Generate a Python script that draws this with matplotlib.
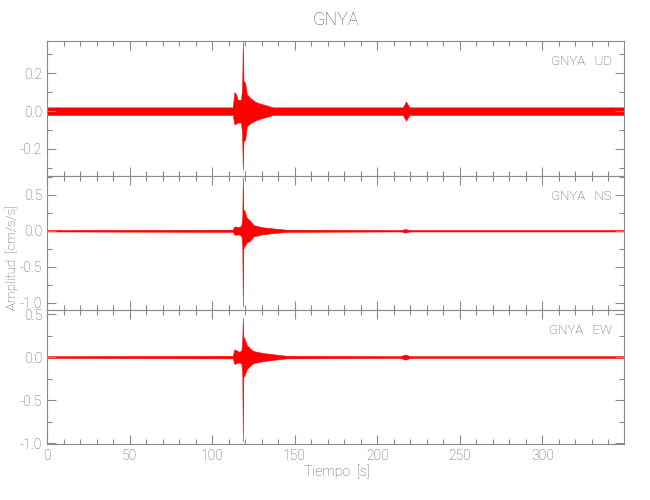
import matplotlib
matplotlib.use('Agg')
import matplotlib.pyplot as plt
from matplotlib.ticker import MultipleLocator

plt.rcParams['font.family'] = ['Roboto', 'DejaVu Sans']
plt.rcParams['font.weight'] = 'light'

station = 'GNYA'
components = ['UD', 'NS', 'EW']

# envelope of each trace (time s, upper / lower amplitude cm/s/s)
t_ud = [0, 112.5, 113.5, 114.5, 115.5, 117.5, 118.2, 118.6, 119.0, 120.0, 121.0,
        123.0, 126.0, 129.0, 133.0, 137.0, 215.5, 217.4, 219.5, 350]
up_ud = [0.02, 0.02, 0.10, 0.09, 0.06, 0.06, 0.12, 0.37, 0.16, 0.15, 0.09,
         0.07, 0.05, 0.04, 0.03, 0.02, 0.02, 0.05, 0.02, 0.02]
lo_ud = [-0.02, -0.02, -0.07, -0.065, -0.06, -0.06, -0.12, -0.31, -0.16, -0.15, -0.08,
         -0.065, -0.05, -0.04, -0.03, -0.02, -0.02, -0.05, -0.02, -0.02]

t_ns = [0, 112.5, 113.5, 116.5, 117.8, 118.3, 118.6, 118.9, 119.5, 121, 123,
        125, 130, 138, 145, 214.5, 217, 219.5, 350]
up_ns = [0.01, 0.015, 0.06, 0.05, 0.08, 0.2, 0.74, 0.30, 0.28, 0.18, 0.14,
         0.08, 0.05, 0.03, 0.015, 0.01, 0.025, 0.01, 0.01]
lo_ns = [-0.01, -0.015, -0.055, -0.05, -0.08, -0.2, -1.05, -0.25, -0.22, -0.16, -0.14,
         -0.08, -0.05, -0.03, -0.015, -0.01, -0.025, -0.01, -0.01]

t_ew = [0, 112.5, 113.5, 116.5, 117.8, 118.3, 118.6, 118.9, 119.5, 121, 123,
        125, 130, 138, 145, 214, 217, 220, 350]
up_ew = [0.01, 0.015, 0.09, 0.06, 0.08, 0.2, 0.46, 0.24, 0.22, 0.14, 0.10,
         0.07, 0.05, 0.03, 0.015, 0.01, 0.03, 0.01, 0.01]
lo_ew = [-0.01, -0.015, -0.08, -0.06, -0.08, -0.2, -0.98, -0.23, -0.22, -0.14, -0.10,
         -0.07, -0.05, -0.03, -0.015, -0.01, -0.03, -0.01, -0.01]

traces = [(t_ud, up_ud, lo_ud), (t_ns, up_ns, lo_ns), (t_ew, up_ew, lo_ew)]
ylims = [(-0.343, 0.371), (-1.10, 0.76), (-1.01, 0.547)]
ymajor = [0.2, 0.5, 0.5]
yminor = [0.1, 0.25, 0.25]

gray = '#8a8a8a'
txt = '#5a5a5a'

fig = plt.figure(figsize=(6.5, 5), dpi=100)
rects = [[0.0723, 0.648, 0.8877, 0.270],
         [0.0723, 0.380, 0.8877, 0.268],
         [0.0723, 0.112, 0.8877, 0.268]]

for k, (comp, (t, up, lo)) in enumerate(zip(components, traces)):
    ax = fig.add_axes(rects[k])
    ax.fill_between(t, lo, up, color='red', linewidth=0.4, edgecolor='red')
    ax.set_xlim(0, 349.5)
    ax.set_ylim(*ylims[k])
    ax.xaxis.set_major_locator(MultipleLocator(50))
    ax.xaxis.set_minor_locator(MultipleLocator(10))
    ax.yaxis.set_major_locator(MultipleLocator(ymajor[k]))
    ax.yaxis.set_minor_locator(MultipleLocator(yminor[k]))
    ax.yaxis.set_major_formatter(plt.FormatStrFormatter('%.1f'))
    ax.tick_params(which='both', direction='in', top=True, right=True,
                   color=gray, labelcolor=txt, labelsize=10, width=0.8)
    ax.tick_params(which='major', length=6.5)
    ax.tick_params(which='minor', length=3.5)
    for s in ax.spines.values():
        s.set_color(gray)
        s.set_linewidth(0.8)
    if k < 2:
        ax.set_xticklabels([])
    ax.text(0.979, 0.85, f'{station}   {comp}', transform=ax.transAxes,
            ha='right', va='center', color=txt, fontsize=9.5)

fig.text(0.516, 0.96, station, ha='center', va='center', color=txt, fontsize=13)
fig.text(0.519, 0.056, 'Tiempo  [s]', ha='center', va='center', color=txt, fontsize=10)
fig.text(0.019, 0.485, 'Amplitud  [cm/s/s]', ha='center', va='center',
         rotation=90, color=txt, fontsize=9.5)

fig.savefig('out.png', dpi=100)
